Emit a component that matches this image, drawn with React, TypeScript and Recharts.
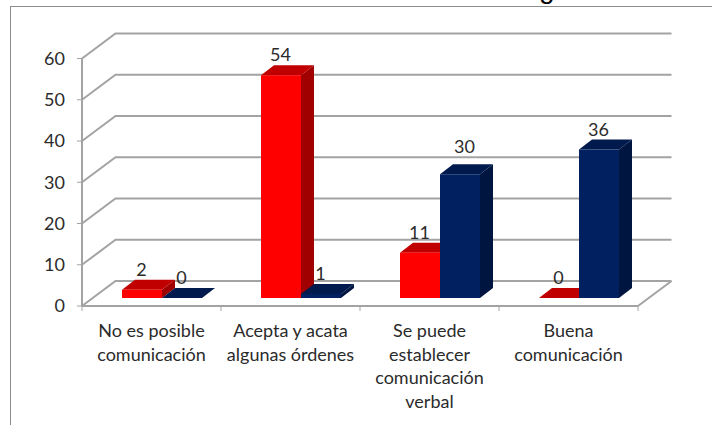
import { Bar, BarChart, CartesianGrid, LabelList, XAxis, YAxis } from "recharts";

const categories = [
  "No es posible\ncomunicación",
  "Acepta y acata\nalgunas órdenes",
  "Se puede\nestablecer\ncomunicación\nverbal",
  "Buena\ncomunicación",
];
const redValues = [2, 54, 11, 0];
const blueValues = [0, 1, 30, 36];
const yTicks = [0, 10, 20, 30, 40, 50, 60];

const data = categories.map((name, i) => ({ name, red: redValues[i], blue: blueValues[i] }));

const FONT = "Lato, sans-serif";
const TEXT = "#2b2b2b";
const GRID = "#a3a3a3";

// the 3d look: walls go back 33/25, bars sit mid-way with a shallower depth
const WALL_DX = 33.5;
const WALL_DY = 25;
const BAR_SHIFT_X = 10;
const BAR_SHIFT_Y = 8;
const BAR_DX = 13;
const BAR_DY = 10;
const BAND = 139;

function GridLine(props: any) {
  const { x1, x2, y1, index } = props;
  const bx = x1 + WALL_DX;
  const by = y1 - WALL_DY;
  return (
    <g key={index} fill="none" stroke={GRID} strokeWidth={2}>
      <polyline points={`${x1},${y1} ${bx},${by} ${x2 + WALL_DX},${by}`} />
      {y1 > 300 && <line x1={x2} y1={y1} x2={x2 + WALL_DX} y2={by} />}
    </g>
  );
}

function Box3D(props: any) {
  const { x, y, width, height, front, top, side } = props;
  const l = x + BAR_SHIFT_X;
  const r = l + width;
  const t = y - BAR_SHIFT_Y;
  const b = t + height;
  return (
    <g>
      <polygon points={`${r},${t} ${r + BAR_DX},${t - BAR_DY} ${r + BAR_DX},${b - BAR_DY} ${r},${b}`} fill={side} />
      <polygon points={`${l},${t} ${l + BAR_DX},${t - BAR_DY} ${r + BAR_DX},${t - BAR_DY} ${r},${t}`} fill={top} />
      <rect x={l} y={t} width={width} height={height} fill={front} />
    </g>
  );
}

function CategoryTick(props: any) {
  const { x, y, payload } = props;
  const lines = String(payload.value).split("\n");
  const left = x - BAND / 2;
  return (
    <g>
      <line x1={left} y1={306} x2={left} y2={311} stroke={GRID} strokeWidth={1} />
      {payload.index === categories.length - 1 && (
        <line x1={left + BAND} y1={306} x2={left + BAND} y2={311} stroke={GRID} strokeWidth={1} />
      )}
      <text x={x} y={y} textAnchor="middle" fontFamily={FONT} fontSize={18} fill={TEXT}>
        {lines.map((line, i) => (
          <tspan key={i} x={x} y={331 + 6 + i * 23.7}>
            {line}
          </tspan>
        ))}
      </text>
    </g>
  );
}

// the "30" sits a little off its bar in the original
const labelNudge: Record<string, [number, number]> = { "blue-2": [5, -7] };

function valueLabel(series: string) {
  return (props: any) => {
    const { x, y, width, value, index } = props;
    const [nx, ny] = labelNudge[`${series}-${index}`] ?? [0, 0];
    return (
      <text
        x={x + width / 2 + BAR_SHIFT_X + nx - 0.5}
        y={y - BAR_SHIFT_Y - 14 + ny}
        textAnchor="middle"
        fontFamily={FONT}
        fontSize={18}
        fill={TEXT}
      >
        {value}
      </text>
    );
  };
}

export default function App() {
  return (
    <div style={{ position: "absolute", left: 0, top: 0, width: 712, height: 425, overflow: "hidden", background: "#fff" }}>
      <div
        style={{
          position: "absolute",
          left: 10,
          top: 6,
          width: 702,
          height: 419,
          borderLeft: "1px solid #8c8c8c",
          borderTop: "1px solid #8c8c8c",
          boxSizing: "border-box",
        }}
      />
      <div
        style={{
          position: "absolute",
          left: 539,
          top: -27,
          fontFamily: "'Liberation Sans', sans-serif",
          fontSize: 28,
          lineHeight: "32px",
          color: "#000",
        }}
      >
        g
      </div>
      <div style={{ position: "absolute", left: 0, top: 0 }}>
        <BarChart
          width={712}
          height={425}
          data={data}
          margin={{ top: 58.5, right: 74, bottom: 0, left: 0 }}
          barSize={40}
          barGap={0}
        >
          <CartesianGrid vertical={false} horizontal={GridLine} />
          <XAxis
            dataKey="name"
            height={119}
            interval={0}
            axisLine={{ stroke: GRID, strokeWidth: 2 }}
            tickLine={false}
            tick={CategoryTick}
          />
          <YAxis
            width={82}
            domain={[0, 60]}
            ticks={yTicks}
            axisLine={{ stroke: GRID, strokeWidth: 2 }}
            tickLine={{ stroke: GRID }}
            tickSize={5}
            tickMargin={12}
            tick={{ fontFamily: FONT, fontSize: 18, fill: TEXT }}
          />
          <Bar
            dataKey="red"
            isAnimationActive={false}
            shape={(p: any) => <Box3D {...p} front="#ff0000" top="#c00000" side="#a00000" />}
          >
            <LabelList dataKey="red" content={valueLabel("red")} />
          </Bar>
          <Bar
            dataKey="blue"
            isAnimationActive={false}
            shape={(p: any) => <Box3D {...p} front="#002060" top="#001a4d" side="#001540" />}
          >
            <LabelList dataKey="blue" content={valueLabel("blue")} />
          </Bar>
        </BarChart>
      </div>
    </div>
  );
}
